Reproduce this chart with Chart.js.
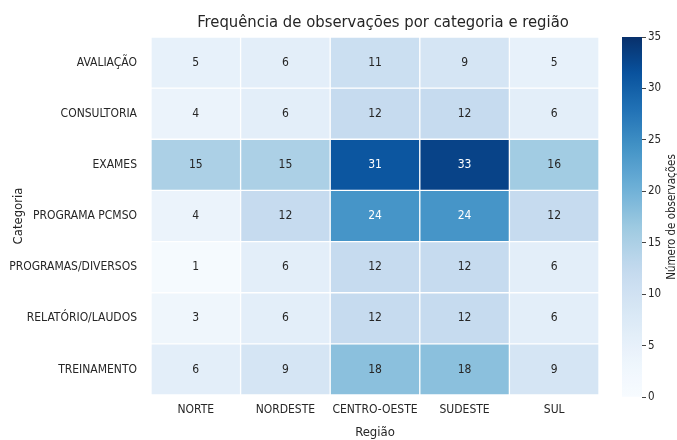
<!DOCTYPE html>
<html>
<head>
<meta charset="utf-8">
<script src="https://cdn.jsdelivr.net/npm/chart.js@4.4.0/dist/chart.umd.min.js"></script>
<style>
  html, body { margin: 0; padding: 0; background: #fff; }
  #wrap { position: relative; width: 677px; height: 440px; }
  #heat { position: absolute; left: 0; top: 0; }
  #cbar { position: absolute; left: 600px; top: 0; }
</style>
</head>
<body>
<div id="wrap">
  <canvas id="heat" width="600" height="440"></canvas>
  <canvas id="cbar" width="77" height="440"></canvas>
</div>
<script>
// data
const regioes = ["NORTE", "NORDESTE", "CENTRO-OESTE", "SUDESTE", "SUL"];
const categorias = ["AVALIAÇÃO", "CONSULTORIA", "EXAMES", "PROGRAMA PCMSO",
  "PROGRAMAS/DIVERSOS", "RELATÓRIO/LAUDOS", "TREINAMENTO"];
const avaliacao = [5, 6, 11, 9, 5];
const consultoria = [4, 6, 12, 12, 6];
const exames = [15, 15, 31, 33, 16];
const programaPcmso = [4, 12, 24, 24, 12];
const programasDiversos = [1, 6, 12, 12, 6];
const relatorioLaudos = [3, 6, 12, 12, 6];
const treinamento = [6, 9, 18, 18, 9];
const valores = [avaliacao, consultoria, exames, programaPcmso,
  programasDiversos, relatorioLaudos, treinamento];
const escalaTicks = [0, 5, 10, 15, 20, 25, 30, 35];
const VMAX = 35;

const FONT = "'DejaVu Sans Condensed', 'DejaVu Sans', sans-serif";
const TEXT = '#262626';
const TITLE = 'Frequência de observações por categoria e região';

// matplotlib "Blues" (the picture looks a bit washed out, hence the gamma)
const BLUES = ['#f7fbff', '#deebf7', '#c6dbef', '#9ecae1', '#6baed6',
  '#4292c6', '#2171b5', '#08519c', '#08306b'];
const GAMMA = 1.3;

function hexRgb(h) {
  return [parseInt(h.slice(1, 3), 16), parseInt(h.slice(3, 5), 16), parseInt(h.slice(5, 7), 16)];
}
function blues(t) {
  t = Math.pow(Math.max(0, Math.min(1, t)), GAMMA);
  const p = t * (BLUES.length - 1);
  const i = Math.min(Math.floor(p), BLUES.length - 2);
  const f = p - i;
  const a = hexRgb(BLUES[i]), b = hexRgb(BLUES[i + 1]);
  const c = a.map((v, k) => Math.round(v + (b[k] - v) * f));
  return `rgb(${c[0]},${c[1]},${c[2]})`;
}

// one dataset per row, each cell a floating bar [i, i+1]
const datasets = categorias.map((cat, i) => ({
  label: cat,
  data: regioes.map(() => [i, i + 1]),
  backgroundColor: valores[i].map(v => blues(v / VMAX)),
  borderColor: '#ffffff',
  borderWidth: 1,
  borderSkipped: false,
  barPercentage: 1,
  categoryPercentage: 1
}));

const cellLabels = {
  id: 'cellLabels',
  afterDatasetsDraw(chart) {
    const ctx = chart.ctx;
    ctx.save();
    ctx.font = '12px ' + FONT;
    ctx.textAlign = 'center';
    ctx.textBaseline = 'middle';
    chart.data.datasets.forEach((ds, i) => {
      chart.getDatasetMeta(i).data.forEach((bar, j) => {
        const v = valores[i][j];
        ctx.fillStyle = v > 20 ? '#ffffff' : TEXT;
        ctx.fillText(String(v), bar.x, (bar.y + bar.base) / 2);
      });
    });
    // title, drawn by hand so it can sit where matplotlib put it
    ctx.font = '16.5px ' + FONT;
    ctx.fillStyle = TEXT;
    ctx.textBaseline = 'alphabetic';
    ctx.fillText(TITLE, 383, 27);
    ctx.restore();
  }
};

new Chart(document.getElementById('heat'), {
  type: 'bar',
  data: { labels: regioes, datasets: datasets },
  plugins: [cellLabels],
  options: {
    responsive: false,
    animation: false,
    layout: { padding: { right: 1, top: 37 } },
    plugins: {
      legend: { display: false },
      tooltip: { enabled: false },
      title: { display: false }
    },
    scales: {
      x: {
        stacked: true,
        grid: { display: false, drawTicks: false },
        border: { display: false },
        ticks: { color: TEXT, font: { family: FONT, size: 12 }, padding: 8, maxRotation: 0, minRotation: 0, autoSkip: false },
        title: {
          display: true, text: 'Região', color: TEXT,
          font: { family: FONT, size: 13 }, padding: { top: 0, bottom: 0 }
        },
        afterFit: s => { s.height = 45; }
      },
      y: {
        type: 'linear',
        min: 0, max: categorias.length,
        reverse: true,
        stacked: false,
        grid: { display: false, drawTicks: false },
        border: { display: false },
        afterBuildTicks: s => { s.ticks = categorias.map((c, i) => ({ value: i + 0.5 })); },
        ticks: {
          autoSkip: false,
          color: TEXT,
          font: { family: FONT, size: 12 },
          padding: 14,
          callback: v => categorias[Math.floor(v)]
        },
        title: {
          display: true, text: 'Categoria', color: TEXT,
          font: { family: FONT, size: 13 }, padding: { top: 11, bottom: 0 }
        },
        afterFit: s => { s.width = 151; }
      }
    }
  }
});

// colour bar
const cbarTitle = {
  id: 'cbarTitle',
  afterDraw(chart) {
    const ctx = chart.ctx, a = chart.chartArea;
    ctx.save();
    ctx.translate(72, (a.top + a.bottom) / 2);
    ctx.rotate(-Math.PI / 2);
    ctx.font = '11.5px ' + FONT;
    ctx.fillStyle = TEXT;
    ctx.textAlign = 'center';
    ctx.textBaseline = 'middle';
    ctx.fillText('Número de observações', 0, 0);
    ctx.restore();
  }
};

new Chart(document.getElementById('cbar'), {
  type: 'bar',
  data: {
    labels: [''],
    datasets: [{
      data: [[0, VMAX]],
      barPercentage: 1,
      categoryPercentage: 1,
      backgroundColor: c => {
        const a = c.chart.chartArea;
        if (!a) return blues(0.5);
        const g = c.chart.ctx.createLinearGradient(0, a.bottom, 0, a.top);
        for (let k = 0; k <= 40; k++) g.addColorStop(k / 40, blues(k / 40));
        return g;
      }
    }]
  },
  plugins: [cbarTitle],
  options: {
    responsive: false,
    animation: false,
    layout: { padding: { left: 22, top: 37, bottom: 43 } },
    plugins: { legend: { display: false }, tooltip: { enabled: false } },
    scales: {
      x: { display: false },
      y: {
        position: 'right',
        min: 0, max: VMAX,
        afterBuildTicks: s => { s.ticks = escalaTicks.map(v => ({ value: v })); },
        ticks: { color: TEXT, font: { family: FONT, size: 11.5 }, padding: 2 },
        grid: { drawOnChartArea: false, tickLength: 4, color: '#444' },
        border: { display: false },
        afterFit: s => { s.width = 35; }
      }
    }
  }
});
</script>
</body>
</html>
